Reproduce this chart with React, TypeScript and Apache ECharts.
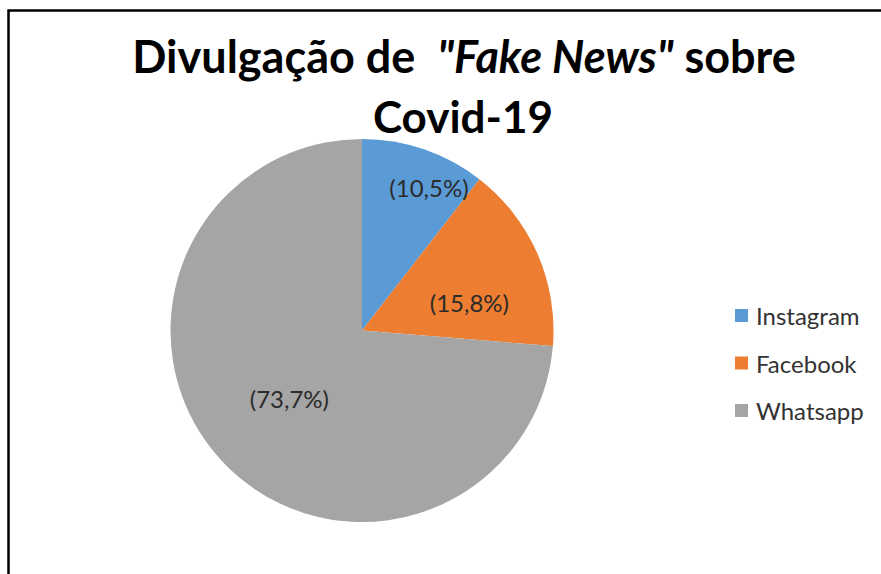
import React, { useEffect, useRef } from "react";
import * as echarts from "echarts";

const categories = ["Instagram", "Facebook", "Whatsapp"];
const values = [10.5, 15.8, 73.7];
const colors = ["#5B9BD5", "#ED7D31", "#A5A5A5"];
const titleLine1 = ["Divulgação de  ", "\"Fake News\"", " sobre"];
const titleLine2 = "Covid-19";

// small nudges of the data labels away from the default inner position
const labelNudge = [
  [35, -50],
  [17, 12],
  [0, 1],
];

const FONT = "Lato, 'Noto Sans', sans-serif";

function fmt(v: number) {
  return "(" + v.toFixed(1).replace(".", ",") + "%)";
}

export default function App() {
  const ref = useRef<HTMLDivElement>(null);
  useEffect(() => {
    if (!ref.current) return;
    const chart = echarts.init(ref.current, null, { renderer: "svg" });
    chart.setOption({
      animation: false,
      backgroundColor: "#ffffff",
      title: [
        {
          text:
            "{b|" + titleLine1[0] + "}{bi|" + titleLine1[1] + "}{b|" + titleLine1[2] + "}",
          left: 464,
          top: 31,
          textAlign: "center",
          padding: 0,
          textStyle: {
            rich: {
              b: { fontFamily: FONT, fontWeight: "bold", fontSize: 45, color: "#000", lineHeight: 50 },
              bi: { fontFamily: FONT, fontWeight: "bold", fontStyle: "italic", fontSize: 45, color: "#000", lineHeight: 50 },
            },
          },
        },
        {
          text: titleLine2,
          left: 463,
          top: 91,
          textAlign: "center",
          padding: 0,
          textStyle: { fontFamily: FONT, fontWeight: "bold", fontSize: 44, color: "#000", lineHeight: 50 },
        },
      ],
      color: colors,
      legend: {
        orient: "vertical",
        left: 735,
        top: 302,
        padding: 0,
        itemWidth: 13,
        itemHeight: 13,
        itemGap: 20.5,
        icon: "rect",
        selectedMode: false,
        textStyle: { fontFamily: FONT, fontSize: 24, color: "#333", lineHeight: 27, padding: [0, 0, 0, 3] },
        data: categories,
      },
      graphic: [
        {
          type: "rect",
          shape: { x: 8.5, y: 10.5, width: 1000, height: 1000 },
          style: { fill: "none", stroke: "#000", lineWidth: 2.5 },
          silent: true,
        },
      ],
      series: [
        {
          type: "pie",
          center: [362, 330.5],
          radius: 191.5,
          startAngle: 90,
          clockwise: true,
          avoidLabelOverlap: false,
          silent: true,
          label: {
            show: true,
            position: "inside",
            fontFamily: FONT,
            fontSize: 24,
            color: "#2b2b2b",
            formatter: (p: any) => fmt(p.value),
          },
          labelLine: { show: false },
          labelLayout: (p: any) => ({ dx: labelNudge[p.dataIndex][0], dy: labelNudge[p.dataIndex][1] }),
          itemStyle: { borderWidth: 0 },
          data: categories.map((c, i) => ({ name: c, value: values[i] })),
        },
      ],
    });
    return () => chart.dispose();
  }, []);
  return (
    <div
      ref={ref}
      style={{ position: "fixed", left: 0, top: 0, width: 881, height: 574, background: "#fff" }}
    />
  );
}
